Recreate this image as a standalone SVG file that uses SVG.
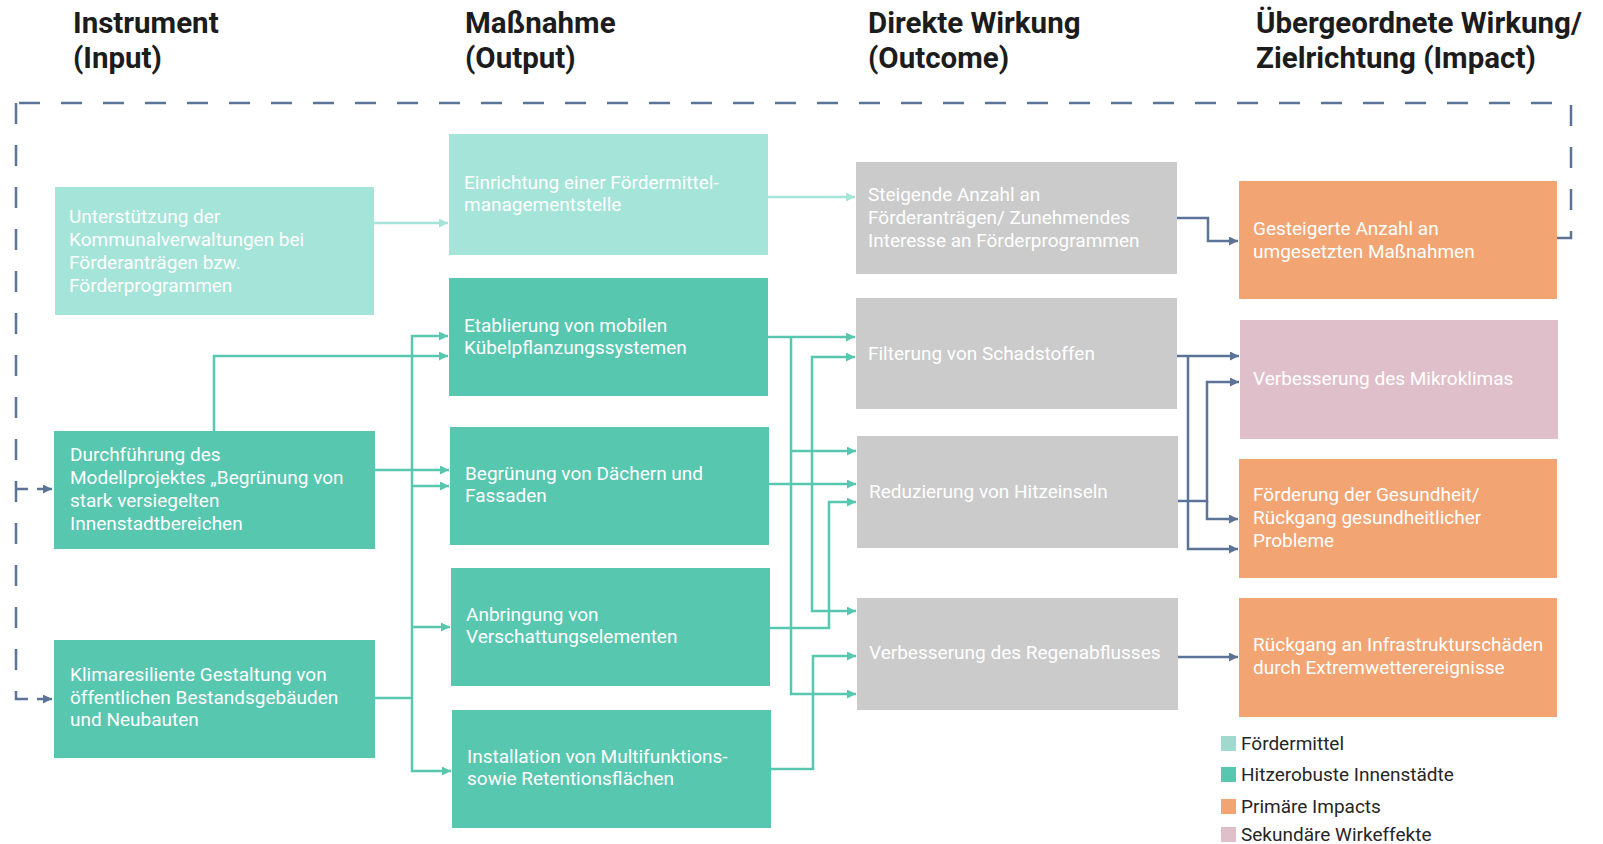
<svg xmlns="http://www.w3.org/2000/svg" width="1603" height="844" viewBox="0 0 1603 844">
<defs>
<style>
.title{font-family:Roboto,"Liberation Sans",sans-serif;font-weight:700;font-size:29.5px;fill:#1c1c1c}
.t{font-family:Roboto,"Liberation Sans",sans-serif;font-size:19px;fill:#ffffff}
.lg{font-family:Roboto,"Liberation Sans",sans-serif;font-size:19px;fill:#262626}
.fm{fill:#a5e4d8}
.hi{fill:#57c7b0}
.gr{fill:#cbcbcb}
.or{fill:#f2a473}
.pk{fill:#dfbfca}
.c{fill:none;stroke:#57c7b0;stroke-width:2.5}
.cl{fill:none;stroke:#a5e4d8;stroke-width:2.5}
.cb{fill:none;stroke:#5a7396;stroke-width:2.5}
.dash{fill:none;stroke:#5a7396;stroke-width:2.5;stroke-dasharray:21 21}
</style>
<marker id="aT" markerUnits="userSpaceOnUse" markerWidth="10" markerHeight="10" refX="9" refY="4.5" orient="auto"><path d="M0,0 L9,4.5 L0,9 z" fill="#57c7b0"/></marker>
<marker id="aL" markerUnits="userSpaceOnUse" markerWidth="10" markerHeight="10" refX="9" refY="4.5" orient="auto"><path d="M0,0 L9,4.5 L0,9 z" fill="#a5e4d8"/></marker>
<marker id="aB" markerUnits="userSpaceOnUse" markerWidth="10" markerHeight="10" refX="9" refY="4.5" orient="auto"><path d="M0,0 L9,4.5 L0,9 z" fill="#5a7396"/></marker>
</defs>
<rect width="1603" height="844" fill="#ffffff"/>

<g id="titles">
<text class="title" x="73" y="33">Instrument</text>
<text class="title" x="73" y="68">(Input)</text>
<text class="title" x="465" y="33">Maßnahme</text>
<text class="title" x="465" y="68">(Output)</text>
<text class="title" x="868" y="33">Direkte Wirkung</text>
<text class="title" x="868" y="68">(Outcome)</text>
<text class="title" x="1256" y="33">Übergeordnete Wirkung/</text>
<text class="title" x="1256" y="68">Zielrichtung (Impact)</text>
</g>

<g id="feedback">
<path class="dash" d="M1557,238 H1571 V103 H16"/>
<path class="dash" d="M16,103 V699 H28"/>
<path d="M16,489 H28" fill="none" stroke="#5a7396" stroke-width="2.5"/>
<path class="cb" d="M37,489 H52" marker-end="url(#aB)"/>
<path class="cb" d="M37,699 H52" marker-end="url(#aB)"/>
</g>

<g id="connectors">
<path class="cl" d="M374,223 H448" marker-end="url(#aL)"/>
<path class="cl" d="M768,197 H855" marker-end="url(#aL)"/>
<path class="c" d="M214,431 V356 H448" marker-end="url(#aT)"/>
<path class="c" d="M375,470 H449" marker-end="url(#aT)"/>
<path class="c" d="M375,698 H412"/>
<path class="c" d="M412,698 V336 H448" marker-end="url(#aT)"/>
<path class="c" d="M412,486 H449" marker-end="url(#aT)"/>
<path class="c" d="M412,627 H450" marker-end="url(#aT)"/>
<path class="c" d="M412,698 V771 H451" marker-end="url(#aT)"/>
<path class="c" d="M768,337 H855" marker-end="url(#aT)"/>
<path class="c" d="M791,337 V694 H856" marker-end="url(#aT)"/>
<path class="c" d="M791,451 H856" marker-end="url(#aT)"/>
<path class="c" d="M769,484 H856" marker-end="url(#aT)"/>
<path class="c" d="M812,484 V357 H855" marker-end="url(#aT)"/>
<path class="c" d="M812,484 V611 H856" marker-end="url(#aT)"/>
<path class="c" d="M770,628 H829 V502 H856" marker-end="url(#aT)"/>
<path class="c" d="M771,769 H813 V656 H856" marker-end="url(#aT)"/>
<path class="cb" d="M1177,218 H1208 V241 H1238" marker-end="url(#aB)"/>
<path class="cb" d="M1177,356 H1239" marker-end="url(#aB)"/>
<path class="cb" d="M1188,356 V549 H1238" marker-end="url(#aB)"/>
<path class="cb" d="M1178,501 H1207 V382 H1239" marker-end="url(#aB)"/>
<path class="cb" d="M1207,501 V519 H1238" marker-end="url(#aB)"/>
<path class="cb" d="M1178,657 H1238" marker-end="url(#aB)"/>
</g>

<g id="n-unterstuetzung">
<rect class="fm" x="55" y="187" width="319" height="128"/>
<text class="t" x="69" y="223">Unterstützung der</text>
<text class="t" x="69" y="246">Kommunalverwaltungen bei</text>
<text class="t" x="69" y="269">Förderanträgen bzw.</text>
<text class="t" x="69" y="292">Förderprogrammen</text>
</g>
<g id="n-durchfuehrung">
<rect class="hi" x="54" y="431" width="321" height="118"/>
<text class="t" x="70" y="461">Durchführung des</text>
<text class="t" x="70" y="484">Modellprojektes „Begrünung von</text>
<text class="t" x="70" y="507">stark versiegelten</text>
<text class="t" x="70" y="530">Innenstadtbereichen</text>
</g>
<g id="n-klimaresilient">
<rect class="hi" x="54" y="640" width="321" height="118"/>
<text class="t" x="70" y="681">Klimaresiliente Gestaltung von</text>
<text class="t" x="70" y="704">öffentlichen Bestandsgebäuden</text>
<text class="t" x="70" y="726">und Neubauten</text>
</g>

<g id="n-einrichtung">
<rect class="fm" x="449" y="134" width="319" height="121"/>
<text class="t" x="464" y="189">Einrichtung einer Fördermittel-</text>
<text class="t" x="464" y="211">managementstelle</text>
</g>
<g id="n-etablierung">
<rect class="hi" x="449" y="278" width="319" height="118"/>
<text class="t" x="464" y="332">Etablierung von mobilen</text>
<text class="t" x="464" y="354">Kübelpflanzungssystemen</text>
</g>
<g id="n-begruenung">
<rect class="hi" x="450" y="427" width="319" height="118"/>
<text class="t" x="465" y="480">Begrünung von Dächern und</text>
<text class="t" x="465" y="502">Fassaden</text>
</g>
<g id="n-anbringung">
<rect class="hi" x="451" y="568" width="319" height="118"/>
<text class="t" x="466" y="621">Anbringung von</text>
<text class="t" x="466" y="643">Verschattungselementen</text>
</g>
<g id="n-installation">
<rect class="hi" x="452" y="710" width="319" height="118"/>
<text class="t" x="467" y="763">Installation von Multifunktions-</text>
<text class="t" x="467" y="785">sowie Retentionsflächen</text>
</g>

<g id="n-steigende">
<rect class="gr" x="856" y="162" width="321" height="112"/>
<text class="t" x="868" y="201">Steigende Anzahl an</text>
<text class="t" x="868" y="224">Förderanträgen/ Zunehmendes</text>
<text class="t" x="868" y="247">Interesse an Förderprogrammen</text>
</g>
<g id="n-filterung">
<rect class="gr" x="856" y="298" width="321" height="111"/>
<text class="t" x="868" y="360">Filterung von Schadstoffen</text>
</g>
<g id="n-reduzierung">
<rect class="gr" x="857" y="436" width="321" height="112"/>
<text class="t" x="869" y="498">Reduzierung von Hitzeinseln</text>
</g>
<g id="n-regenabfluss">
<rect class="gr" x="857" y="598" width="321" height="112"/>
<text class="t" x="869" y="659">Verbesserung des Regenabflusses</text>
</g>

<g id="n-gesteigerte">
<rect class="or" x="1239" y="181" width="318" height="118"/>
<text class="t" x="1253" y="235">Gesteigerte Anzahl an</text>
<text class="t" x="1253" y="258">umgesetzten Maßnahmen</text>
</g>
<g id="n-mikroklima">
<rect class="pk" x="1240" y="320" width="318" height="119"/>
<text class="t" x="1253" y="385">Verbesserung des Mikroklimas</text>
</g>
<g id="n-gesundheit">
<rect class="or" x="1239" y="459" width="318" height="119"/>
<text class="t" x="1253" y="501">Förderung der Gesundheit/</text>
<text class="t" x="1253" y="524">Rückgang gesundheitlicher</text>
<text class="t" x="1253" y="547">Probleme</text>
</g>
<g id="n-rueckgang">
<rect class="or" x="1239" y="598" width="318" height="119"/>
<text class="t" x="1253" y="651">Rückgang an Infrastrukturschäden</text>
<text class="t" x="1253" y="674">durch Extremwetterereignisse</text>
</g>

<g id="legend">
<rect x="1221" y="736" width="15" height="15" fill="#a2d9cf"/>
<text class="lg" x="1241" y="750">Fördermittel</text>
<rect x="1221" y="767" width="15" height="15" fill="#57c7b0"/>
<text class="lg" x="1241" y="781">Hitzerobuste Innenstädte</text>
<rect x="1221" y="799" width="15" height="15" fill="#f2a473"/>
<text class="lg" x="1241" y="813">Primäre Impacts</text>
<rect x="1221" y="827" width="15" height="15" fill="#dfbfca"/>
<text class="lg" x="1241" y="841">Sekundäre Wirkeffekte</text>
</g>
</svg>
